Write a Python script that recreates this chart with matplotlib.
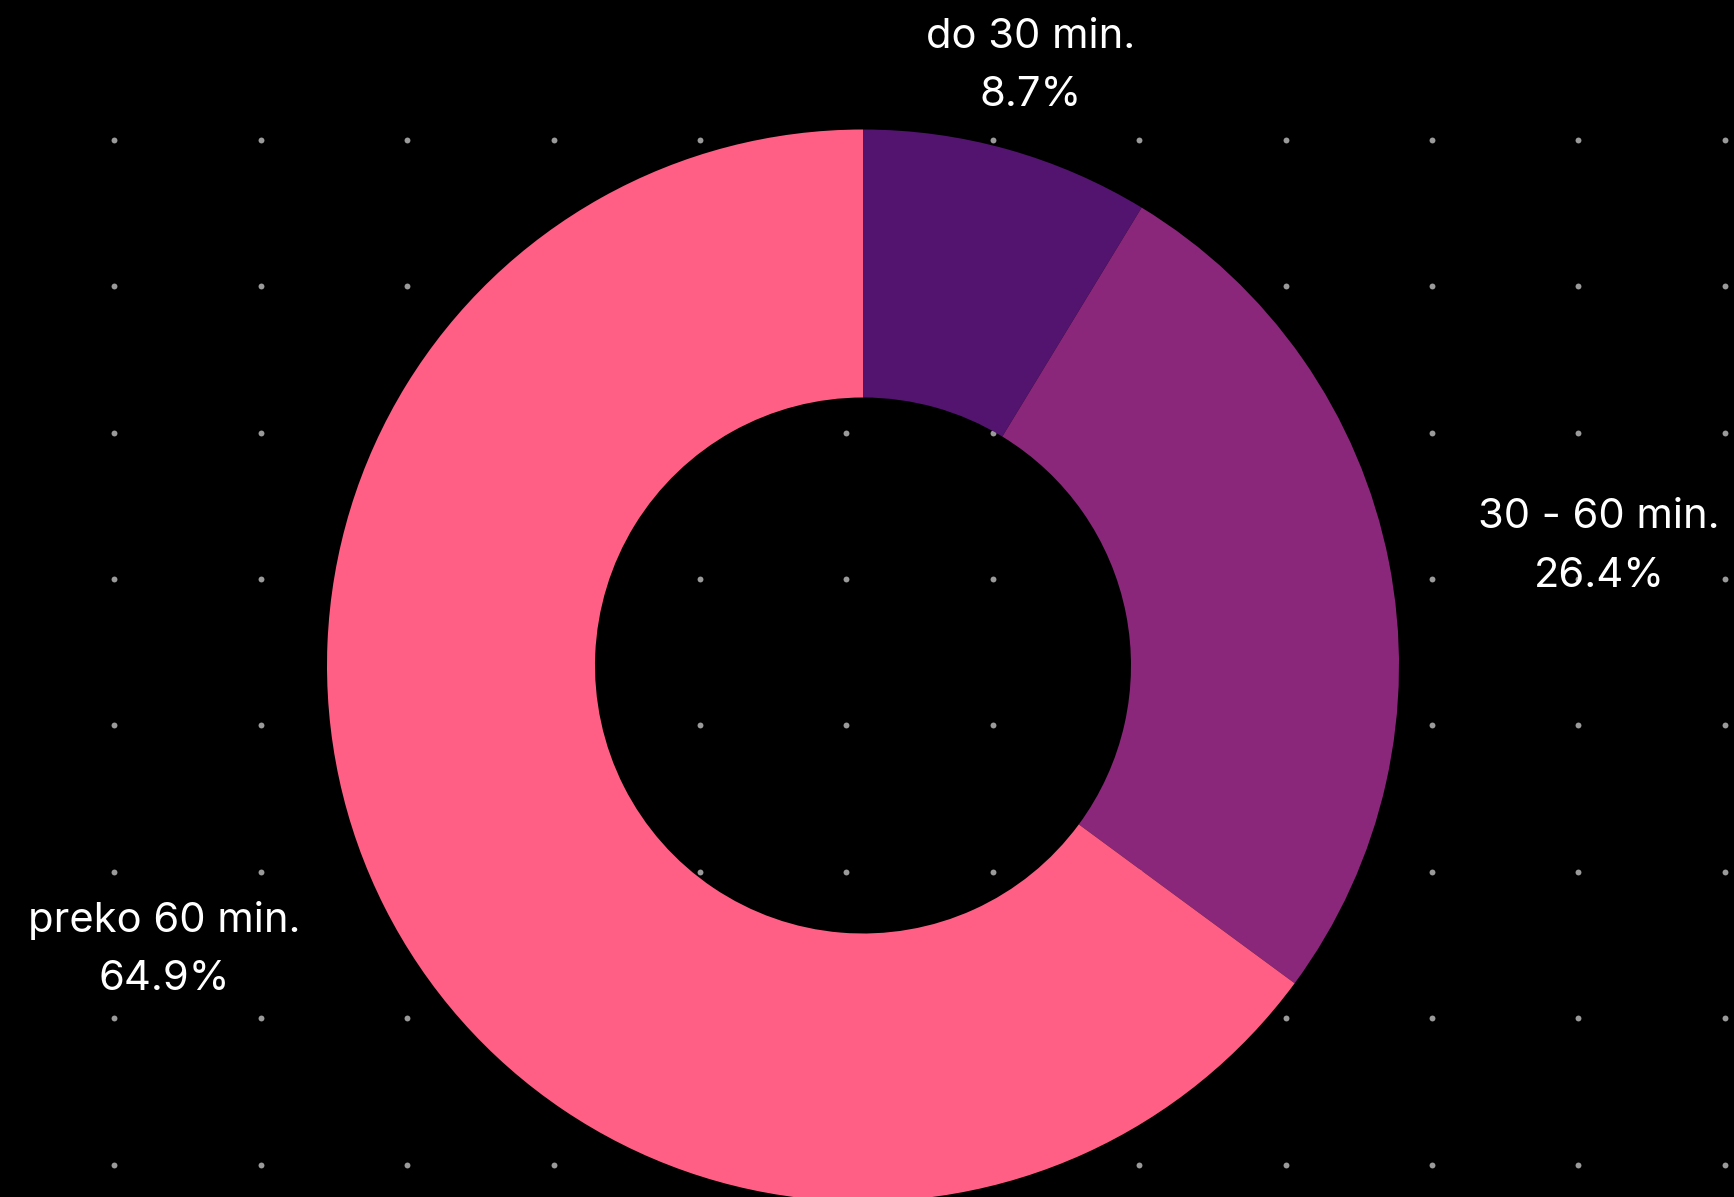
import matplotlib
matplotlib.use("Agg")
import matplotlib.pyplot as plt
import numpy as np

categories = ["do 30 min.", "30 - 60 min.", "preko 60 min."]
values = [8.7, 26.4, 64.9]
colors = ["#52146E", "#8B277B", "#FF5F84"]

W, H = 1734, 1197
fig = plt.figure(figsize=(W / 100, H / 100), dpi=100, facecolor="black")
ax = fig.add_axes([0, 0, 1, 1])
ax.set_facecolor("black")

# background dot grid
gx = 114.3 + 146.4 * np.arange(12)
gy = 139.7 + 146.4 * np.arange(8)
GX, GY = np.meshgrid(gx, gy)
ax.scatter(GX.ravel(), H - GY.ravel(), s=18, color="#9a9a9a", linewidths=0, zorder=1)

cx, cy, R = 863, H - 665.5, 536
wedges, _ = ax.pie(values, colors=colors, startangle=90, counterclock=False,
                   center=(cx, cy), radius=R,
                   wedgeprops=dict(width=R * 0.5, linewidth=0))
for w in wedges:
    w.set_zorder(2)

# labels (layout positions in pixels)
label_pos = [(1031, 37, 95), (1599, 517, 576), (164, 920, 979)]
for cat, v, (lx, ly1, ly2) in zip(categories, values, label_pos):
    ax.text(lx, H - ly1, cat, color="white", fontsize=30, family="Inter",
            ha="center", va="center", zorder=3)
    ax.text(lx, H - ly2, f"{v}%", color="white", fontsize=30, family="Inter",
            ha="center", va="center", zorder=3)

ax.set_xlim(0, W)
ax.set_ylim(0, H)
ax.set_aspect("equal")
ax.axis("off")
fig.savefig("out.png", dpi=100, facecolor="black")
